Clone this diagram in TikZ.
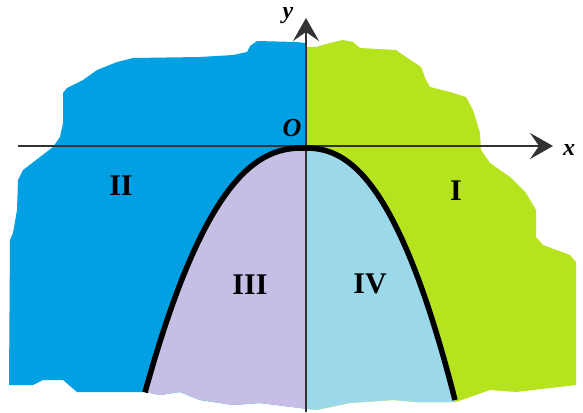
\documentclass[tikz,border=0pt]{standalone}
\usepackage{fontspec}
\setmainfont{Liberation Serif}
\usetikzlibrary{arrows.meta}
\definecolor{cblue}{RGB}{0,160,227}
\definecolor{cgreen}{RGB}{181,228,30}
\definecolor{clav}{RGB}{198,190,228}
\definecolor{clight}{RGB}{155,217,234}
\definecolor{caxis}{RGB}{50,50,50}
\tikzset{
  region/.style={font=\fontsize{30}{30}\selectfont\bfseries, inner sep=0pt},
  axlabel/.style={font=\fontsize{24}{24}\selectfont\bfseries\itshape, inner sep=0pt},
  axis/.style={draw=caxis, line width=2.2pt, -{Stealth[length=23pt,width=26pt,inset=9pt]}},
  curve/.style={draw=black, line width=5.5pt},
  pb/.style={variable=\t, domain=-159:151, samples=121}
}
\newcommand{\pbx}{304+\t}
\newcommand{\pby}{148+exp((\t<0 ? -6.413 : -6.261)+2.35*ln(abs(\t)+0.001))}
\begin{document}
\begin{tikzpicture}[x=1pt,y=-1pt]
\useasboundingbox (0,0) rectangle (583,412);
\begin{scope}
\clip (306,43) -- (295,42) -- (257,41) -- (250,46) -- (247,52) -- (233,55) -- (200,57) -- (133,58) -- (117,62) -- (97,70) -- (83,80) -- (67,88) -- (63,93) -- (63,123) -- (60,137) -- (53,147) -- (40,157) -- (23,170) -- (18,180) -- (17,210) -- (13,233) -- (10,240) -- (9,385)
 -- (33,385) -- (43,380) -- (63,380) -- (77,392) -- (145,392) -- (160,395) -- (180,392) -- (200,400) -- (233,405) -- (260,403) -- (300,408) -- (316,410) -- (350,403) -- (393,400) -- (416,402) -- (456,402) -- (490,390) -- (516,392) -- (576,385)
 -- (576,262) -- (570,255) -- (543,245) -- (536,237) -- (536,210) -- (526,193) -- (510,177) -- (490,163) -- (481,150) -- (480,133) -- (473,110) -- (466,97) -- (450,92) -- (430,87) -- (426,80) -- (421,67) -- (406,57) -- (396,50) -- (360,48) -- (353,42) -- (343,40) -- (330,43) -- (316,47) -- (306,47) -- cycle;
\fill[cblue] (0,0) rectangle (306,412);
\fill[cgreen] (306,0) rectangle (583,412);
\begin{scope}
\clip (0,0) rectangle (306,420);
\fill[clav] plot[pb] ({\pbx},{\pby}) -- (458,430) -- (142,430) -- cycle;
\end{scope}
\begin{scope}
\clip (306,0) rectangle (583,420);
\fill[clight] plot[pb] ({\pbx},{\pby}) -- (458,430) -- (142,430) -- cycle;
\end{scope}
\end{scope}
\coordinate (xs) at (18,146);
\coordinate (xe) at (553,146);
\coordinate (ys) at (306,412);
\coordinate (ye) at (306,18);
\draw[axis] (xs) -- (xe);
\draw[axis] (ys) -- (ye);
\draw[curve] plot[pb] ({\pbx},{\pby});
\node[axlabel] (xl) at (569,150) {x};
\node[axlabel] (yl) at (288,16) {y};
\node[axlabel, font=\fontsize{26}{26}\selectfont\bfseries\itshape] (o) at (292,128) {O};
\node[region] (r1) at (456,191) {I};
\node[region] (r2) at (121,186) {II};
\node[region] (r3) at (250,285) {III};
\node[region] (r4) at (370,284) {IV};
\end{tikzpicture}
\end{document}
